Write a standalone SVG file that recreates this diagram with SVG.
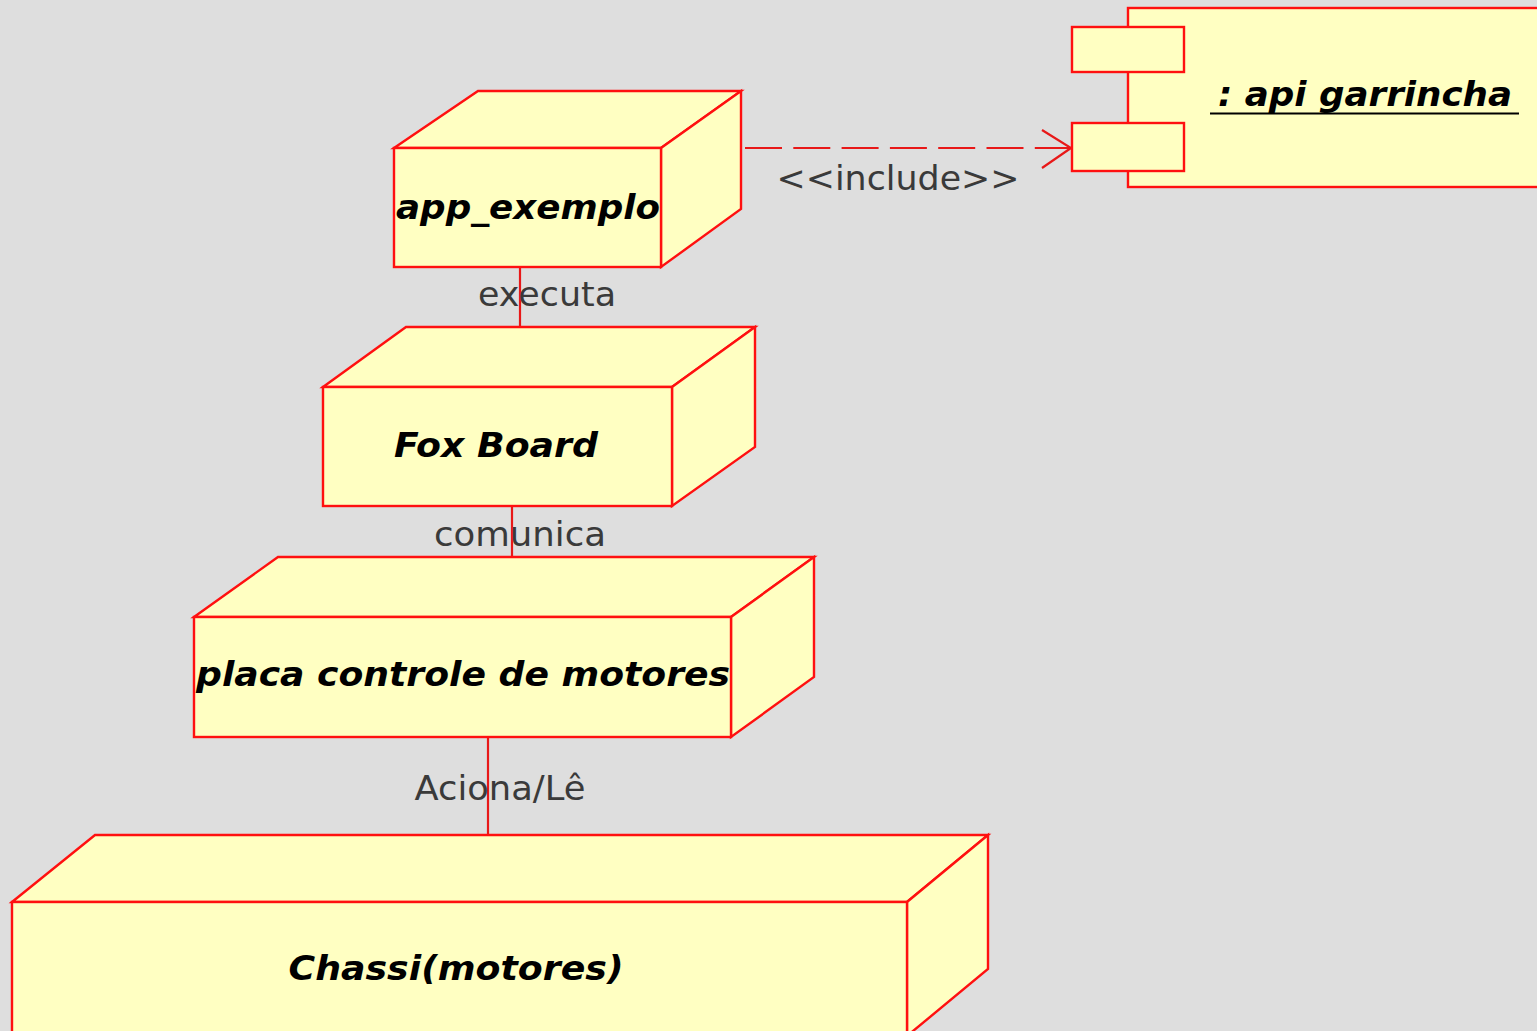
<svg xmlns="http://www.w3.org/2000/svg" width="1537" height="1031" viewBox="0 0 1537 1031">
  <style>
    .box { fill: #ffffc2; stroke: #ff1010; stroke-width: 2.4; stroke-linejoin: miter; }
    .name { font-family: "DejaVu Sans", "Liberation Sans", sans-serif; font-size: 34px; font-weight: bold; font-style: italic; fill: #000; }
    .lbl { font-family: "DejaVu Sans", "Liberation Sans", sans-serif; font-size: 34px; fill: #3a3a3a; }
    .edge { stroke: #e81818; stroke-width: 2.2; fill: none; }
  </style>
  <rect x="0" y="0" width="1537" height="1031" fill="#dedede"/>

  <!-- connectors -->
  <g id="connectors">
    <line class="edge" x1="520" y1="267" x2="520" y2="327"/>
    <line class="edge" x1="512" y1="506" x2="512" y2="557"/>
    <line class="edge" x1="488" y1="737" x2="488" y2="835"/>
    <line class="edge" x1="745" y1="148" x2="1071" y2="148" stroke-dasharray="37 11.3"/>
    <polyline class="edge" points="1042,130 1071,148 1042,168"/>
    <text class="lbl" x="547" y="306" text-anchor="middle" textLength="138" lengthAdjust="spacingAndGlyphs">executa</text>
    <text class="lbl" x="520" y="546" text-anchor="middle" textLength="172" lengthAdjust="spacingAndGlyphs">comunica</text>
    <text class="lbl" x="500" y="800" text-anchor="middle" textLength="171" lengthAdjust="spacingAndGlyphs">Aciona/Lê</text>
    <text class="lbl" x="898" y="190" text-anchor="middle" textLength="243" lengthAdjust="spacingAndGlyphs">&lt;&lt;include&gt;&gt;</text>
  </g>

  <!-- node: app_exemplo -->
  <g id="app_exemplo">
    <polygon class="box" points="394,148 478,91 741,91 661,148"/>
    <polygon class="box" points="661,148 741,91 741,209 661,267"/>
    <rect class="box" x="394" y="148" width="267" height="119"/>
    <text class="name" x="528" y="219" text-anchor="middle" textLength="264" lengthAdjust="spacingAndGlyphs">app_exemplo</text>
  </g>

  <!-- node: Fox Board -->
  <g id="fox_board">
    <polygon class="box" points="323,387 406,327 755,327 672,387"/>
    <polygon class="box" points="672,387 755,327 755,447 672,506"/>
    <rect class="box" x="323" y="387" width="349" height="119"/>
    <text class="name" x="496" y="457" text-anchor="middle" textLength="204" lengthAdjust="spacingAndGlyphs">Fox Board</text>
  </g>

  <!-- node: placa controle de motores -->
  <g id="placa_controle">
    <polygon class="box" points="194,617 278,557 814,557 731,617"/>
    <polygon class="box" points="731,617 814,557 814,677 731,737"/>
    <rect class="box" x="194" y="617" width="537" height="120"/>
    <text class="name" x="463" y="686" text-anchor="middle" textLength="534" lengthAdjust="spacingAndGlyphs">placa controle de motores</text>
  </g>

  <!-- node: Chassi(motores) -->
  <g id="chassi">
    <polygon class="box" points="12,902 95,835 988,835 907,902"/>
    <polygon class="box" points="907,902 988,835 988,969 907,1036"/>
    <rect class="box" x="12" y="902" width="895" height="140"/>
    <text class="name" x="456" y="980" text-anchor="middle" textLength="335" lengthAdjust="spacingAndGlyphs">Chassi(motores)</text>
  </g>

  <!-- component: api garrincha -->
  <g id="api_garrincha">
    <rect class="box" x="1128" y="8" width="420" height="179"/>
    <rect class="box" x="1072" y="27" width="112" height="45"/>
    <rect class="box" x="1072" y="123" width="112" height="48"/>
    <text class="name" x="1365" y="106" text-anchor="middle" textLength="294" lengthAdjust="spacingAndGlyphs">: api garrincha</text>
    <line x1="1210" y1="113.5" x2="1519" y2="113.5" stroke="#000" stroke-width="2"/>
  </g>
</svg>
